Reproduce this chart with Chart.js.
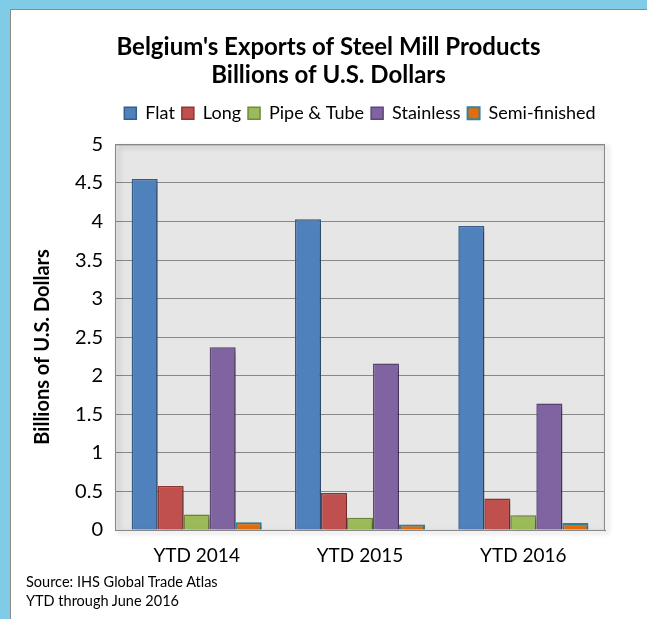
<!DOCTYPE html>
<html>
<head>
<meta charset="utf-8">
<script src="https://cdn.jsdelivr.net/npm/chart.js@4.4.1/dist/chart.umd.min.js"></script>
<style>
    body { margin: 0; width: 647px; height: 619px; background: #80cbe5; position: relative; overflow: hidden; }
    #frame { position: absolute; left: 10px; top: 9px; right: 0; bottom: 0; background: #fff;
             border-left: 1px solid #8a8a8a; border-top: 1px solid #8a8a8a; }
    #chart { position: absolute; left: 0; top: 0; }
    #note { position: absolute; left: 26px; top: 572px; font: 14.5px Lato, sans-serif; line-height: 19px; color: #000; }
</style>
</head>
<body>
<div id="frame"></div>
<canvas id="chart" width="647" height="619"></canvas>
<div id="note">Source: IHS Global Trade Atlas<br>YTD through June 2016</div>
<script>
var years = ['YTD 2014', 'YTD 2015', 'YTD 2016'];
var flatData = [4.55, 4.03, 3.94];
var longData = [0.57, 0.48, 0.41];
var pipeData = [0.20, 0.16, 0.19];
var stainlessData = [2.37, 2.16, 1.64];
var semiData = [0.10, 0.07, 0.09];

var FONT = 'Lato, sans-serif';

// серый фон области графика и рамка
var plotBack = {
    id: 'plotBack',
    beforeDraw: function(chart) {
        var a = chart.chartArea, ctx = chart.ctx;
        ctx.save();
        ctx.fillStyle = '#e6e6e6';
        ctx.fillRect(a.left, a.top, a.right - a.left, a.bottom - a.top);
        ctx.restore();
    },
    afterDatasetsDraw: function(chart) {
        var a = chart.chartArea, ctx = chart.ctx;
        ctx.save();
        ctx.strokeStyle = '#888';
        ctx.lineWidth = 1;
        ctx.strokeRect(a.left + 0.5, a.top + 0.5, a.right - a.left - 1, a.bottom - a.top);
        ctx.restore();
    }
};

// тень справа от столбцов
var barShadow = {
    id: 'barShadow',
    beforeDatasetsDraw: function(chart) {
        var ctx = chart.ctx;
        ctx.save();
        ctx.shadowColor = 'rgba(0,0,0,0.35)';
        ctx.shadowBlur = 5;
        ctx.shadowOffsetX = 3;
        ctx.shadowOffsetY = 2;
    },
    afterDatasetsDraw: function(chart) {
        chart.ctx.restore();
    }
};

var ctx = document.getElementById('chart').getContext('2d');
new Chart(ctx, {
    type: 'bar',
    data: {
        labels: years,
        datasets: [
            { label: 'Flat', data: flatData, backgroundColor: '#4f81bd', borderColor: '#385d8a', borderWidth: 1.5 },
            { label: 'Long', data: longData, backgroundColor: '#c0504d', borderColor: '#8c3836', borderWidth: 1.5 },
            { label: 'Pipe & Tube', data: pipeData, backgroundColor: '#9bbb59', borderColor: '#71893f', borderWidth: 1.5 },
            { label: 'Stainless', data: stainlessData, backgroundColor: '#8064a2', borderColor: '#5c4776', borderWidth: 1.5 },
            { label: 'Semi-finished', data: semiData, backgroundColor: '#e46c0a', borderColor: '#31849b', borderWidth: 2 }
        ]
    },
    options: {
        responsive: false,
        animation: false,
        layout: { padding: { left: 10, right: 0, top: 10, bottom: 49 } },
        datasets: { bar: { categoryPercentage: 0.796, barPercentage: 1 } },
        scales: {
            x: {
                grid: { display: false },
                border: { display: true, color: '#888' },
                ticks: { color: '#000', font: { family: FONT, size: 19 }, padding: 6 },
                afterFit: function(scale) { scale.height = 40; }
            },
            y: {
                min: 0,
                max: 5,
                ticks: { stepSize: 0.5, color: '#000', font: { family: FONT, size: 20 }, padding: 12,
                         callback: function(v) { return String(v); } },
                grid: { color: '#888', drawTicks: false },
                border: { display: true, color: '#888' },
                title: { display: true, text: 'Billions of U.S. Dollars    ', color: '#000',
                         font: { family: FONT, size: 20, weight: 'bold' }, padding: { top: 21, bottom: 0 } },
                afterFit: function(scale) { scale.width = 105; }
            },
            // пустая правая ось, чтобы заголовок был по центру всей диаграммы
            yr: {
                position: 'right',
                grid: { display: false },
                border: { display: false },
                ticks: { display: false },
                afterFit: function(scale) { scale.width = 42; }
            }
        },
        plugins: {
            title: {
                display: true,
                text: ["Belgium's Exports of Steel Mill Products", 'Billions of U.S. Dollars'],
                color: '#000',
                font: { family: FONT, size: 24, weight: 'bold', lineHeight: 1.17 },
                padding: { top: 23, bottom: 8 }
            },
            legend: {
                display: true,
                fullSize: false,
                labels: { color: '#000', boxWidth: 12, boxHeight: 12, padding: 7,
                          font: { family: FONT, size: 18 } }
            },
            // отступ между легендой и областью графика
            subtitle: {
                display: true,
                text: '',
                weight: 500,
                font: { size: 1 },
                padding: { top: 0, bottom: 11 }
            },
            tooltip: { enabled: false }
        }
    },
    plugins: [plotBack, barShadow]
});
</script>
</body>
</html>
